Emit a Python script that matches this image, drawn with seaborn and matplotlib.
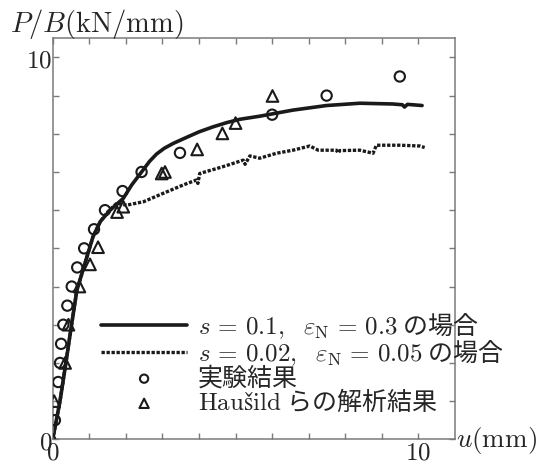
import numpy as np
import pandas as pd
import matplotlib
matplotlib.use("Agg")
import matplotlib.pyplot as plt
import seaborn as sns
from matplotlib.ticker import FixedLocator, FixedFormatter

# s = 0.1, eps_N = 0.3
u_s01 = [0.0, 0.2, 0.36, 0.5, 0.66, 0.88, 1.1, 1.3, 1.57, 1.93, 2.16, 2.43, 2.65,
         2.84, 3.05, 3.3, 3.67, 4.0, 4.38, 4.75, 5.12, 5.66, 6.0, 6.57, 7.49, 8.4,
         9.3, 9.56, 9.62, 9.7, 10.1]
p_s01 = [0.0, 1.0, 2.0, 2.9, 3.9, 4.6, 5.3, 5.7, 6.0, 6.31, 6.66, 7.0, 7.28,
         7.47, 7.62, 7.75, 7.91, 8.05, 8.18, 8.29, 8.38, 8.46, 8.52, 8.62, 8.74, 8.8,
         8.78, 8.76, 8.70, 8.77, 8.74]

# s = 0.02, eps_N = 0.05
u_s002 = [0.0, 0.2, 0.36, 0.5, 0.66, 0.88, 1.1, 1.3, 1.5, 1.75, 2.02, 2.48, 3.02,
          3.57, 3.93, 3.97, 4.02, 4.66, 5.21, 5.26, 5.39, 5.66, 6.12, 6.57, 7.03,
          7.26, 7.76, 7.8, 7.85, 8.4, 8.76, 8.85, 9.5, 10.04, 10.17]
p_s002 = [0.0, 1.0, 2.0, 2.9, 3.9, 4.6, 5.3, 5.7, 5.95, 6.18, 6.13, 6.22, 6.44,
          6.66, 6.79, 6.7, 6.96, 7.14, 7.31, 7.2, 7.42, 7.36, 7.49, 7.57, 7.68,
          7.57, 7.57, 7.5, 7.56, 7.57, 7.49, 7.7, 7.7, 7.68, 7.64]

# 実験結果
u_exp = [0.06, 0.15, 0.2, 0.23, 0.29, 0.4, 0.52, 0.67, 0.86, 1.13, 1.43, 1.91,
         2.43, 3.48, 6.0, 7.49, 9.49]
p_exp = [0.5, 1.5, 2.0, 2.5, 3.0, 3.5, 4.0, 4.5, 5.0, 5.5, 6.0, 6.5,
         7.0, 7.5, 8.5, 9.0, 9.5]

# Haušild らの解析結果
u_hau = [0.0, 0.04, 0.34, 0.43, 0.73, 1.02, 1.24, 1.76, 1.93, 2.98, 3.07, 3.95,
         4.64, 5.0, 6.01]
p_hau = [0.0, 1.0, 2.0, 3.0, 4.0, 4.58, 5.03, 5.95, 6.09, 6.96, 7.0, 7.59,
         8.01, 8.28, 8.99]

labels = [r"$s\,=\,0.1,\ \ \varepsilon_{\mathrm{N}}\,=\,0.3$ の場合",
          r"$s\,=\,0.02,\ \ \varepsilon_{\mathrm{N}}\,=\,0.05$ の場合",
          "実験結果",
          r"$\mathrm{Haušild}$ らの解析結果"]

sns.set_style("ticks")
plt.rcParams["font.family"] = ["Noto Sans CJK JP", "DejaVu Sans"]
plt.rcParams["mathtext.fontset"] = "cm"

ink = "#1a1a1a"
grey = "#7a7a7a"

fig = plt.figure(figsize=(5.36, 4.62), dpi=100)
ax = fig.add_axes([52.7 / 536, 1 - 439.3 / 462, 402.3 / 536, 401.0 / 462])

sns.lineplot(x=u_s01, y=p_s01, ax=ax, color=ink, lw=2.6, sort=False,
             estimator=None, label=labels[0])
sns.lineplot(x=u_s002, y=p_s002, ax=ax, color=ink, lw=2.4, sort=False,
             estimator=None, linestyle=(0, (1.0, 0.5)), label=labels[1])
sns.scatterplot(x=u_exp, y=p_exp, ax=ax, marker="o", s=55, facecolor="none",
                edgecolor=ink, linewidth=1.5, label=labels[2], zorder=3)
sns.scatterplot(x=u_hau, y=p_hau, ax=ax, marker="^", s=70, facecolor="none",
                edgecolor=ink, linewidth=1.5, label=labels[3], zorder=3)

ax.set_xlim(0, 11)
ax.set_ylim(0, 10.5)
ax.set_xlabel("")
ax.set_ylabel("")

for sp in ax.spines.values():
    sp.set_visible(True)
    sp.set_color(grey)
    sp.set_linewidth(1.1)

ax.xaxis.set_major_locator(FixedLocator([0, 10]))
ax.yaxis.set_major_locator(FixedLocator([0, 10]))
ax.xaxis.set_major_formatter(FixedFormatter([r"$0$", r"$10$"]))
ax.yaxis.set_major_formatter(FixedFormatter([r"$0$", r"$10$"]))
ax.xaxis.set_minor_locator(FixedLocator(np.arange(1, 11)))
ax.yaxis.set_minor_locator(FixedLocator(np.arange(1, 11)))
ax.tick_params(which="both", direction="in", top=True, right=True,
               length=4, width=1.0, color=grey, labelsize=18, pad=0.5)

leg = ax.legend(loc="upper left", bbox_to_anchor=(0.12, 0.32), frameon=False,
                fontsize=18, handlelength=3.45, handletextpad=0.44,
                borderpad=0, borderaxespad=0, labelspacing=-0.1, markerscale=0.8)

fig.text(10 / 536, 1 - 24 / 462, r"$P/B(\mathrm{kN/mm})$", fontsize=20.5,
         va="center", ha="left")
fig.text(456 / 536, 1 - 440 / 462, r"$u(\mathrm{mm})$", fontsize=19.5,
         va="center", ha="left")

fig.savefig("out.png", dpi=100)
